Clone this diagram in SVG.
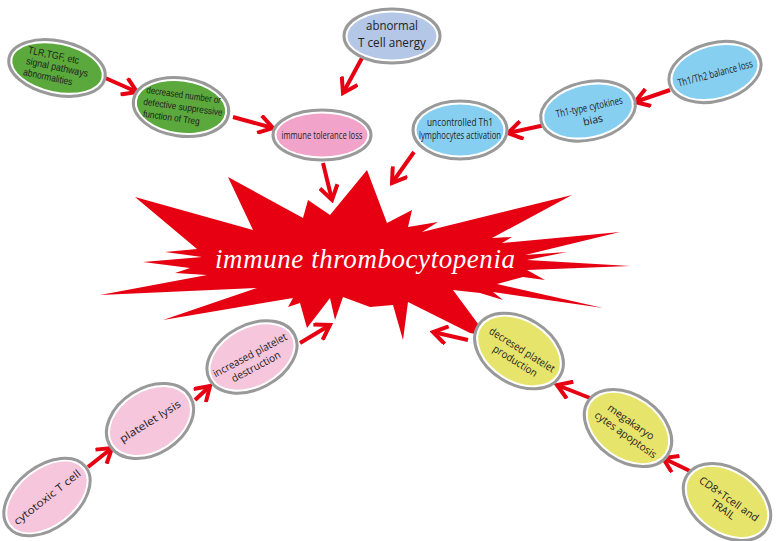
<svg xmlns="http://www.w3.org/2000/svg" width="778" height="541" viewBox="0 0 778 541">
<defs>
<style>
.ring{fill:#fff;stroke:#999;stroke-width:3}
.g{fill:#5ba93c}
.lav{fill:#b4c7e7}
.pk{fill:#f2a3c9}
.bl{fill:#87cff1}
.lp{fill:#f6c6dd}
.ye{fill:#e7e46c}
.t{font-family:"Liberation Sans",Arial,sans-serif;fill:#222;text-anchor:middle}
.o{font-family:"Open Sans","Noto Sans",sans-serif;fill:#222;text-anchor:middle}
.con line{stroke:#e60012;stroke-width:4;marker-end:url(#ah)}
</style>
<marker id="ah" viewBox="0 0 20 20" markerWidth="20" markerHeight="20" refX="17" refY="10" orient="auto" markerUnits="userSpaceOnUse">
<path d="M3,1 L17,10 L3,19" fill="none" stroke="#e60012" stroke-width="4"/>
</marker>
</defs>
<rect width="778" height="541" fill="#fff"/>

<g id="star">
<polygon fill="#e60012" points="367,170 387,223 412,210 408,227 438,222 422,232 572,195 492,238 512,237 502,243 620,232 525,255 567,252 527,260 630,266 527,270 545,280 523,277 497,284 603,308 493,292 503,300 480,293 453,290 487,336 470,333 408,302 403,340 393,305 370,307 343,297 335,320 330,298 307,328 300,303 288,307 293,298 163,320 257,288 100,295 207,275 175,273 190,268 143,262 202,257 165,252 197,249 135,197 253,230 228,177 303,218 308,200 330,215"/>
<text x="215" y="268" font-family="'Liberation Serif','DejaVu Serif',serif" font-style="italic" font-size="27" fill="#fff" textLength="300" lengthAdjust="spacing">immune thrombocytopenia</text>
</g>

<g class="con" id="connectors">
<line x1="103" y1="77" x2="137" y2="92"/>
<line x1="233" y1="117" x2="273" y2="128"/>
<line x1="362" y1="58" x2="343" y2="93"/>
<line x1="323" y1="163" x2="332" y2="200"/>
<line x1="414" y1="152" x2="392" y2="183"/>
<line x1="545" y1="125" x2="508" y2="133"/>
<line x1="670" y1="90" x2="635" y2="102"/>
<line x1="88" y1="467" x2="112" y2="448"/>
<line x1="195" y1="400" x2="210" y2="386"/>
<line x1="300" y1="343" x2="330" y2="325"/>
<line x1="468" y1="340" x2="433" y2="332"/>
<line x1="590" y1="398" x2="557" y2="385"/>
<line x1="692" y1="472" x2="663" y2="458"/>
</g>

<g id="n-tlr" transform="translate(57,68) rotate(12)">
<ellipse class="ring" rx="49" ry="27"/><ellipse class="g" rx="45.5" ry="23.5"/>
<text class="t" font-size="10"><tspan x="-6" y="-8.5" textLength="52" lengthAdjust="spacingAndGlyphs">TLR,TGF, etc</tspan><tspan x="0" y="2.5" textLength="63" lengthAdjust="spacingAndGlyphs">signal  pathways</tspan><tspan x="-7" y="14" textLength="50" lengthAdjust="spacingAndGlyphs">abnormalities</tspan></text>
</g>

<g id="n-treg" transform="translate(181,107) rotate(8)">
<ellipse class="ring" rx="48" ry="29"/><ellipse class="g" rx="44.5" ry="25.5"/>
<text class="t" font-size="9.5"><tspan x="1" y="-9" textLength="75" lengthAdjust="spacingAndGlyphs">decreased number or</tspan><tspan x="2" y="3" textLength="80" lengthAdjust="spacingAndGlyphs">defective  suppressive</tspan><tspan x="-8" y="15" textLength="57" lengthAdjust="spacingAndGlyphs">function of Treg</tspan></text>
</g>

<g id="n-anergy" transform="translate(392,36)">
<ellipse class="ring" rx="48" ry="27"/><ellipse class="lav" rx="44.5" ry="23.5"/>
<text class="o" font-size="13.5"><tspan x="0" y="-6" textLength="52" lengthAdjust="spacingAndGlyphs">abnormal</tspan><tspan x="0" y="11" textLength="68" lengthAdjust="spacingAndGlyphs">T cell  anergy</tspan></text>
</g>

<g id="n-tolerance" transform="translate(322,135)">
<ellipse class="ring" rx="49" ry="25"/><ellipse class="pk" rx="45.5" ry="21.5"/>
<text class="o" font-size="10.5" x="0" y="3.5" textLength="81" lengthAdjust="spacingAndGlyphs">immune tolerance loss</text>
</g>

<g id="n-th1act" transform="translate(460,130)">
<ellipse class="ring" rx="47" ry="29"/><ellipse class="bl" rx="43.5" ry="25.5"/>
<text class="o" font-size="10"><tspan x="0" y="-4.5" textLength="66" lengthAdjust="spacingAndGlyphs">uncontrolled Th1</tspan><tspan x="0" y="9" textLength="82" lengthAdjust="spacingAndGlyphs">lymphocytes activation</tspan></text>
</g>

<g id="n-cytokines" transform="translate(588,111) rotate(-12)">
<ellipse class="ring" rx="48" ry="29"/><ellipse class="bl" rx="44.5" ry="25.5"/>
<text class="o" font-size="10.5"><tspan x="2" y="0" textLength="68" lengthAdjust="spacingAndGlyphs">Th1-type cytokines</tspan><tspan x="3" y="13.5">bias</tspan></text>
</g>

<g id="n-balance" transform="translate(715,72) rotate(-15)">
<ellipse class="ring" rx="47" ry="29"/><ellipse class="bl" rx="43.5" ry="25.5"/>
<text class="o" font-size="10.5" x="0" y="5" textLength="77" lengthAdjust="spacingAndGlyphs">Th1/Th2 balance loss</text>
</g>

<g id="n-destruction" transform="translate(252,357) rotate(-28)">
<ellipse class="ring" rx="48" ry="32"/><ellipse class="lp" rx="44.5" ry="28.5"/>
<text class="o" font-size="10.5"><tspan x="-1" y="1" textLength="82" lengthAdjust="spacingAndGlyphs">increased platelet</tspan><tspan x="-1" y="14" textLength="54" lengthAdjust="spacingAndGlyphs">destruction</tspan></text>
</g>

<g id="n-lysis" transform="translate(150,421) rotate(-32)">
<ellipse class="ring" rx="47" ry="33"/><ellipse class="lp" rx="43.5" ry="29.5"/>
<text class="o" font-size="10.5" x="0" y="4" textLength="70" lengthAdjust="spacingAndGlyphs">platelet lysis</text>
</g>

<g id="n-cytotoxic" transform="translate(47,497) rotate(-38)">
<ellipse class="ring" rx="49" ry="31"/><ellipse class="lp" rx="45.5" ry="27.5"/>
<text class="o" font-size="10.5" x="0" y="4" textLength="82" lengthAdjust="spacingAndGlyphs">cytotoxic T cell</text>
</g>

<g id="n-production" transform="translate(519,351) rotate(32)">
<ellipse class="ring" rx="48" ry="33"/><ellipse class="ye" rx="44.5" ry="29.5"/>
<text class="o" font-size="10.5"><tspan x="2" y="1" textLength="75" lengthAdjust="spacingAndGlyphs">decresed platelet</tspan><tspan x="2" y="14" textLength="50" lengthAdjust="spacingAndGlyphs">production</tspan></text>
</g>

<g id="n-apoptosis" transform="translate(628,428) rotate(35)">
<ellipse class="ring" rx="48" ry="33"/><ellipse class="ye" rx="44.5" ry="29.5"/>
<text class="o" font-size="10.5"><tspan x="-1" y="-3" textLength="54" lengthAdjust="spacingAndGlyphs">megakaryo</tspan><tspan x="2" y="10.5" textLength="73" lengthAdjust="spacingAndGlyphs">cytes apoptosis</tspan></text>
</g>

<g id="n-cd8" transform="translate(727,502) rotate(35)">
<ellipse class="ring" rx="48" ry="33"/><ellipse class="ye" rx="44.5" ry="29.5"/>
<text class="o" font-size="10.5"><tspan x="0" y="0" textLength="70" lengthAdjust="spacingAndGlyphs">CD8+Tcell and</tspan><tspan x="1" y="12" textLength="27" lengthAdjust="spacingAndGlyphs">TRAIL</tspan></text>
</g>
</svg>
